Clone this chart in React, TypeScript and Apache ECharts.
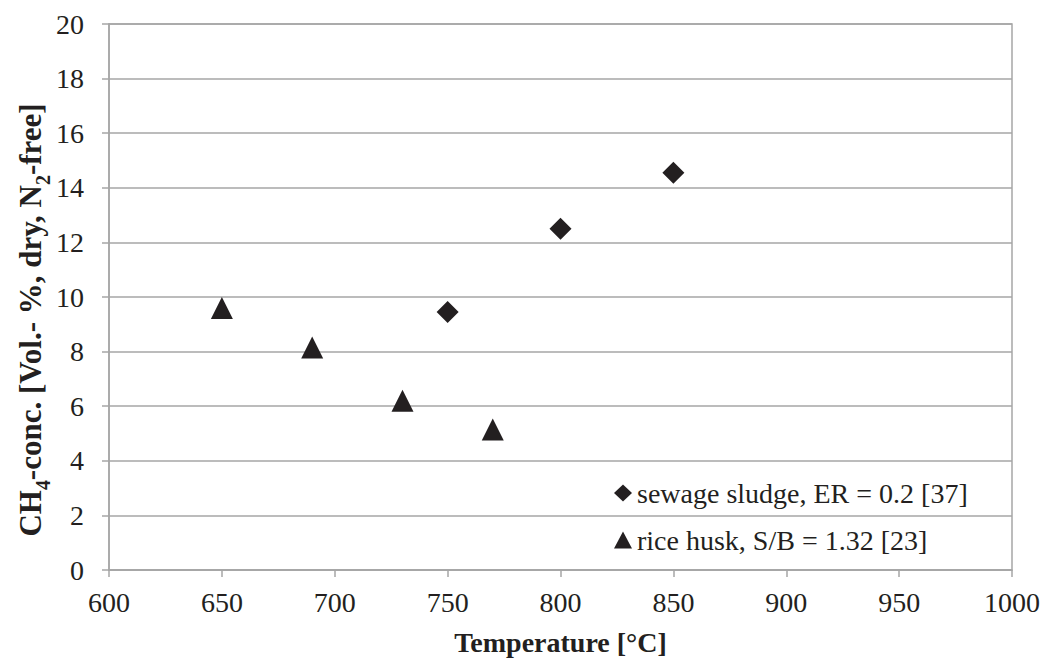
import React, { useEffect, useRef } from "react";
import * as echarts from "echarts";

const xTicks = [600, 650, 700, 750, 800, 850, 900, 950, 1000];
const yTicks = [0, 2, 4, 6, 8, 10, 12, 14, 16, 18, 20];

const sewageTemp = [750, 800, 850];
const sewageCH4 = [9.45, 12.5, 14.55];

const riceTemp = [650, 690, 730, 770];
const riceCH4 = [9.6, 8.15, 6.2, 5.15];

const seriesNames = ["sewage sludge, ER = 0.2 [37]", "rice husk, S/B = 1.32 [23]"];
const xTitle = "Temperature [°C]";
const yTitleRich = "{a|CH}{s|4}{a|-conc. [Vol.- %, dry, N}{s|2}{a|-free]}";

const FONT = "Liberation Serif";
const INK = "#231f20";
const GRIDC = "#a6a6a6";

const reg = { fontFamily: FONT, fontSize: 28, fontWeight: "normal", color: INK };

export default function App() {
  const ref = useRef<HTMLDivElement>(null);
  useEffect(() => {
    if (!ref.current) return;
    const chart = echarts.init(ref.current, undefined, { renderer: "svg" });
    chart.setOption({
      animation: false,
      backgroundColor: "#ffffff",
      textStyle: { fontFamily: FONT, color: INK },
      grid: {
        left: 109,
        right: 31,
        top: 24,
        bottom: 91,
        show: true,
        borderColor: GRIDC,
        borderWidth: 1.5,
        containLabel: false,
      },
      graphic: [
        {
          type: "text",
          x: 30,
          y: 320,
          rotation: Math.PI / 2,
          style: {
            text: yTitleRich,
            align: "center",
            verticalAlign: "middle",
            rich: {
              a: { fontFamily: FONT, fontSize: 31, fontWeight: "bold", fill: INK, lineHeight: 32, verticalAlign: "bottom" },
              s: { fontFamily: FONT, fontSize: 20, fontWeight: "bold", fill: INK, lineHeight: 32, verticalAlign: "bottom", padding: [0, 0, -7, 0] },
            },
          },
        },
      ],
      legend: {
        orient: "vertical",
        left: 614,
        top: 479,
        itemWidth: 18,
        itemHeight: 17,
        itemGap: 19,
        padding: 0,
        data: seriesNames.map((n) => ({ name: n, itemStyle: { opacity: 1 } })),
        textStyle: { ...reg },
      },
      xAxis: {
        type: "value",
        min: xTicks[0],
        max: xTicks[xTicks.length - 1],
        interval: 50,
        name: xTitle,
        nameLocation: "middle",
        nameGap: 58,
        nameTextStyle: { fontFamily: FONT, fontSize: 28, fontWeight: "bold", color: INK },
        axisLine: { show: true, lineStyle: { color: GRIDC, width: 1.5 } },
        axisTick: { show: true, length: 7, lineStyle: { color: GRIDC, width: 1.5 } },
        axisLabel: {
          ...reg,
          margin: 18,
          formatter: (v: number) => String(v),
        },
        splitLine: { show: false },
      },
      yAxis: {
        type: "value",
        min: yTicks[0],
        max: yTicks[yTicks.length - 1],
        interval: 2,
        axisLine: { show: true, lineStyle: { color: GRIDC, width: 1.5 } },
        axisTick: { show: true, length: 7, lineStyle: { color: GRIDC, width: 1.5 } },
        axisLabel: {
          ...reg,
          margin: 25,
          formatter: (v: number) => String(v),
        },
        splitLine: { show: true, lineStyle: { color: GRIDC, width: 1.5 } },
      },
      series: [
        {
          name: seriesNames[0],
          type: "scatter",
          symbol: "diamond",
          symbolSize: 22,
          itemStyle: { color: INK, opacity: 1 },
          data: sewageTemp.map((t, i) => [t, sewageCH4[i]]),
          z: 5,
        },
        {
          name: seriesNames[1],
          type: "scatter",
          symbol: "triangle",
          symbolSize: 22,
          itemStyle: { color: INK, opacity: 1 },
          data: riceTemp.map((t, i) => [t, riceCH4[i]]),
          z: 5,
        },
      ],
    });
    return () => chart.dispose();
  }, []);
  return <div ref={ref} style={{ width: 1043, height: 661, position: "absolute", left: 0, top: 0 }} />;
}
